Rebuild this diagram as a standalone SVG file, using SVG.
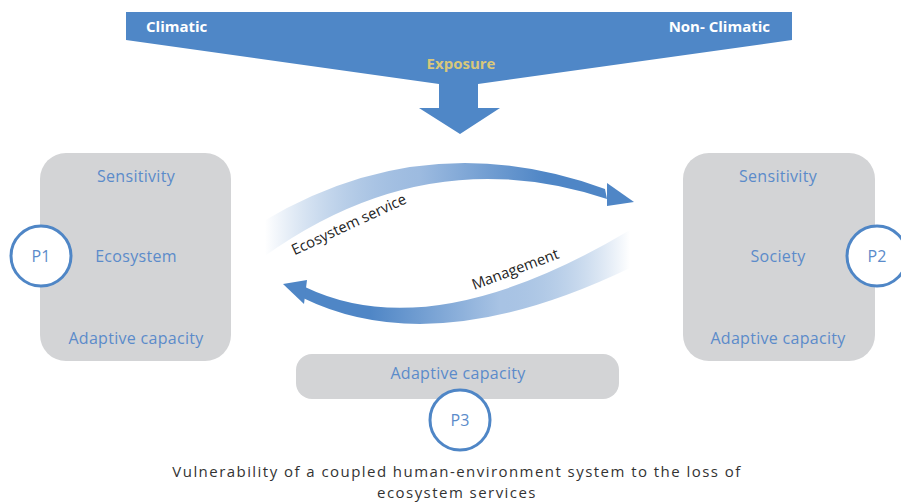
<svg xmlns="http://www.w3.org/2000/svg" width="901" height="504" viewBox="0 0 901 504">
<defs>
<style>
.box{fill:#D3D4D6}
.lbl{font-family:"Open Sans","Liberation Sans",sans-serif;font-size:16px;fill:#5B8BCA;text-anchor:middle;letter-spacing:0.3px}
.pc{fill:#FFFFFF;stroke:#4F86C6;stroke-width:3}
.pt{font-family:"Open Sans","Liberation Sans",sans-serif;font-size:16px;fill:#5B8BCA;text-anchor:middle}
.hd{font-family:"Open Sans","Liberation Sans",sans-serif;font-size:15px;font-weight:bold;fill:#FFFFFF}
.cap{font-family:"Open Sans","Liberation Sans",sans-serif;font-size:15px;fill:#333333;text-anchor:middle;letter-spacing:1.45px}
.al{font-family:"Open Sans","Liberation Sans",sans-serif;font-size:14.8px;fill:#222222;text-anchor:middle}
</style>
<linearGradient id="gUp" gradientUnits="userSpaceOnUse" x1="265" y1="0" x2="545" y2="0">
<stop offset="0" stop-color="#4F86C6" stop-opacity="0"/>
<stop offset="0.55" stop-color="#9DBBE0"/>
<stop offset="1" stop-color="#4F86C6"/>
</linearGradient>
<linearGradient id="gDn" gradientUnits="userSpaceOnUse" x1="630" y1="0" x2="370" y2="0">
<stop offset="0" stop-color="#4F86C6" stop-opacity="0"/>
<stop offset="0.5" stop-color="#A8C3E4"/>
<stop offset="1" stop-color="#4F86C6"/>
</linearGradient>
</defs>
<rect width="901" height="504" fill="#FFFFFF"/>
<g id="exposure">
<polygon points="126,12 792,12 792,40 478,84 478,108 500,108 460,134 419,108 439,108 439,84 126,40" fill="#4F87C7"/>
<text class="hd" x="146" y="32">Climatic</text>
<text class="hd" x="770" y="32" text-anchor="end">Non- Climatic</text>
<text class="hd" x="461" y="69" text-anchor="middle" style="fill:#D8C77A">Exposure</text>
</g>
<g id="connectors">
<path d="M262,222 Q426,124 605,189 L607,199 Q426,139 262,258 Z" fill="url(#gUp)"/>
<polygon points="607,183 634,202 607,206" fill="#4F86C6"/>
<path d="M630,230 Q432,348 305,287 L303,298 Q434,362 630,268 Z" fill="url(#gDn)"/>
<polygon points="283,284 307,280 304,304" fill="#4F86C6"/>
<text class="al" transform="translate(351,229) rotate(-25)">Ecosystem service</text>
<text class="al" transform="translate(517,274) rotate(-20.5)">Management</text>
</g>
<g id="ecosystem">
<rect class="box" x="40" y="153" width="191" height="208" rx="26"/>
<text class="lbl" x="136" y="182">Sensitivity</text>
<text class="lbl" x="136" y="262">Ecosystem</text>
<text class="lbl" x="136" y="344">Adaptive capacity</text>
</g>
<g id="society">
<rect class="box" x="683" y="153" width="192" height="208" rx="26"/>
<text class="lbl" x="778" y="182">Sensitivity</text>
<text class="lbl" x="778" y="262">Society</text>
<text class="lbl" x="778" y="344">Adaptive capacity</text>
</g>
<g id="adaptive">
<rect class="box" x="296" y="354" width="323" height="45" rx="16"/>
<text class="lbl" x="458" y="379">Adaptive capacity</text>
</g>
<g id="p1">
<circle class="pc" cx="41" cy="256" r="30"/>
<text class="pt" x="41" y="262">P1</text>
</g>
<g id="p2">
<circle class="pc" cx="877" cy="256" r="30"/>
<text class="pt" x="877" y="262">P2</text>
</g>
<g id="p3">
<circle class="pc" cx="460" cy="420" r="30"/>
<text class="pt" x="460" y="426">P3</text>
</g>
<g id="caption">
<text class="cap" x="457" y="477">Vulnerability of a coupled human-environment system to the loss of</text>
<text class="cap" x="457" y="498">ecosystem services</text>
</g>
</svg>
